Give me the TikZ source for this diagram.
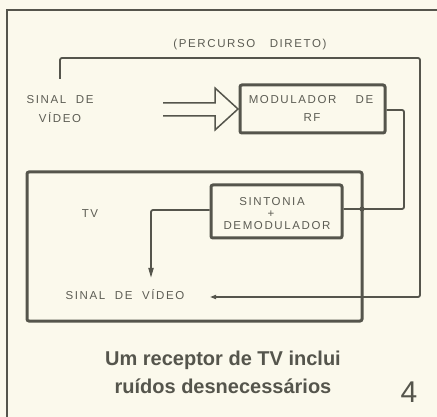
\documentclass[tikz,border=0pt]{standalone}
\usepackage{fontspec}
\setmainfont{Liberation Sans}
\usetikzlibrary{arrows.meta}
\definecolor{bg}{HTML}{FBF9EC}
\definecolor{ink}{HTML}{55554C}
\definecolor{txt}{HTML}{5C5C53}
\begin{document}
\begin{tikzpicture}[x=1pt,y=-1pt,
  boxst/.style={draw=ink, line width=3pt, rounded corners=2pt, inner sep=0pt},
  wire/.style={draw=ink, line width=1.8pt, rounded corners=2pt},
  lbl/.style={text=txt, font=\fontsize{11.5}{13}\selectfont\addfontfeature{LetterSpace=14}, inner sep=0pt, align=center},
  captxt/.style={text=ink, font=\fontsize{20}{26}\selectfont\bfseries, inner sep=0pt, align=center},
]
\fill[bg] (0,0) rectangle (437,417);
\useasboundingbox (0,0) rectangle (437,417);
% outer frame
\draw[ink, line width=1.6pt] (7,417) -- (7,10) -- (437,10);
% boxes
\node[boxst, minimum width=145pt, minimum height=48pt] (mod) at (312.5,109) {};
\node[boxst, minimum width=335pt, minimum height=149pt] (tv) at (194.5,246.5) {};
\node[boxst, minimum width=131pt, minimum height=53pt] (sint) at (276.5,211.5) {};
% texts
\node[lbl] (perc) at (250,45) {(PERCURSO\ \ \ DIRETO)};
\node[lbl] (sv1) at (60,100) {SINAL\ \ DE};
\node[lbl] (sv2) at (60,118) {VÍDEO};
\node[lbl] (modt1) at (311,100) {MODULADOR\ \ \ \ DE};
\node[lbl] (modt2) at (312,118) {RF};
\node[lbl] (st1) at (272,202) {SINTONIA};
\node[lbl] (st2) at (271,214) {+};
\node[lbl] (st3) at (277,226) {DEMODULADOR};
\node[lbl] (tvt) at (90,214) {TV};
\node[lbl] (svid) at (125,295) {SINAL\ \ DE\ \ VÍDEO};
\node[captxt] (c1) at (223,360) {Um receptor de TV inclui};
\node[captxt] (c2) at (223,386) {ruídos desnecessários};
\node[text=ink, font=\fontsize{30}{32}\selectfont, inner sep=0pt] (num) at (409,392) {4};
% hollow arrow
\draw[ink, line width=1.5pt, line join=miter] (163,103) -- (215,103) -- (215,88) -- (238,109) -- (215,130) -- (215,116) -- (163,116);
% direct path
\coordinate (dstart) at (60,79);
\coordinate (dend) at (210,297);
\draw[wire, -{Triangle[length=6pt,width=4pt]}] (dstart) -- (60,58) -- (420,58) -- (420,297) -- (dend);
% modulator to tuner
\draw[wire] (mod.east |- 0,110) -- (404,110) -- (404,209) -- (sint.east |- 0,209);
\fill[ink] (362,209) circle (2.6pt);
% tuner to video
\coordinate (vidin) at (151,278);
\draw[wire, -{Triangle[length=10pt,width=5pt]}] (sint.west |- 0,210) -- (151,210) -- (vidin);
\end{tikzpicture}
\end{document}
